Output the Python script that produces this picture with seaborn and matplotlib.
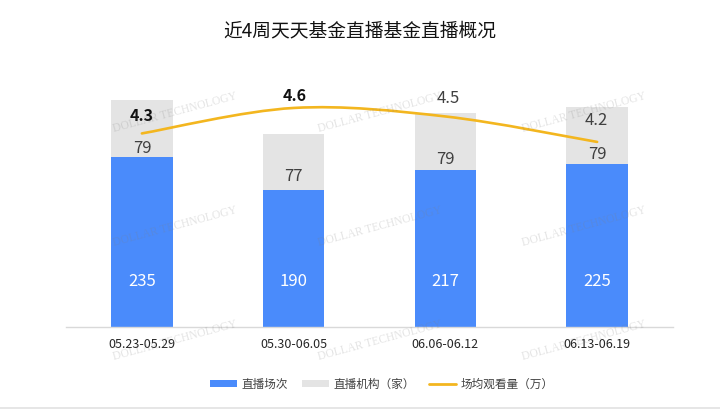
# -*- coding: utf-8 -*-
import matplotlib
matplotlib.use("Agg")
import pandas as pd
import matplotlib.pyplot as plt
import seaborn as sns
from matplotlib.lines import Line2D
from matplotlib.patches import Patch, PathPatch, Rectangle
from matplotlib.path import Path

# ---------------------------------------------------------------------------
# DATA
# ---------------------------------------------------------------------------
periods  = ["05.23-05.29", "05.30-06.05", "06.06-06.12", "06.13-06.19"]
sessions = [235, 190, 217, 225]
orgs     = [79, 77, 79, 79]
avg_view = [4.3, 4.6, 4.5, 4.2]

# ---------------------------------------------------------------------------
# STYLE
# ---------------------------------------------------------------------------
W, H = 720, 409
BLUE, GREY, GOLD = "#4A8BFB", "#E4E4E4", "#F3B61F"
DARK = "#404040"

sns.set_theme(style="white")
plt.rcParams["font.family"] = ["Noto Sans CJK SC", "DejaVu Sans"]

df = pd.DataFrame({"period": periods, "sessions": sessions, "orgs": orgs})

fig = plt.figure(figsize=(W / 100, H / 100), dpi=100, facecolor="white")
ax = fig.add_axes([66 / W, 1 - 327 / H, 607 / W, 253 / H])

# bars
sns.barplot(data=df, x="period", y="sessions", color=BLUE, width=0.405,
            saturation=1, linewidth=0, ax=ax, zorder=2)
sns.barplot(data=df, x="period", y="orgs", bottom=df["sessions"].to_numpy(),
            color=GREY, width=0.405, saturation=1, linewidth=0, ax=ax, zorder=2)
ax.set_xlim(-0.5, 3.5)
ax.set_ylim(0, 350)
ax.set_xlabel("")
ax.set_ylabel("")
ax.set_yticks([])
ax.tick_params(axis="x", length=0, pad=8, labelsize=9, labelcolor="#262626")
for side in ["top", "left", "right"]:
    ax.spines[side].set_visible(False)
ax.spines["bottom"].set_color("#D9D9D9")
ax.spines["bottom"].set_linewidth(1)

# bar labels
org_offsets = [9, 13, 11, 10]
for i, (s, o) in enumerate(zip(sessions, orgs)):
    ax.annotate(str(s), (i, 0), xytext=(0, 33), textcoords="offset points",
                ha="center", va="center", color="white", fontsize=12, zorder=5)
    ax.annotate(str(o), (i, s), xytext=(0, org_offsets[i] * 0.72),
                textcoords="offset points", ha="center", va="center",
                color=DARK, fontsize=12, zorder=5)

# smooth line on a hidden second axis
ax2 = ax.twinx()
ax2.set_ylim(2.02, 5.0)
ax2.set_yticks([])
ax2.patch.set_visible(False)
for sp in ax2.spines.values():
    sp.set_visible(False)

pts = list(enumerate(avg_view))
verts, codes = [pts[0]], [Path.MOVETO]
for i in range(len(pts) - 1):
    p0 = pts[max(i - 1, 0)]
    p1, p2 = pts[i], pts[i + 1]
    p3 = pts[min(i + 2, len(pts) - 1)]
    c1 = (p1[0] + (p2[0] - p0[0]) / 6, p1[1] + (p2[1] - p0[1]) / 6)
    c2 = (p2[0] - (p3[0] - p1[0]) / 6, p2[1] - (p3[1] - p1[1]) / 6)
    verts += [c1, c2, p2]
    codes += [Path.CURVE4] * 3
ax2.add_patch(PathPatch(Path(verts, codes), fill=False, edgecolor=GOLD,
                        linewidth=1.9, capstyle="round", zorder=4))

# line labels
view_offsets = [17, 12, 18, 21]
view_bold    = [True, True, False, False]
view_color   = ["#111111", "#111111", DARK, DARK]
x_nudge      = [0, 1, 3, -1]
for i, v in enumerate(avg_view):
    ax2.annotate(f"{v}", (i, v), xytext=(x_nudge[i] * 0.72, view_offsets[i] * 0.72),
                 textcoords="offset points", ha="center", va="center",
                 color=view_color[i],
                 fontsize=11.5 if view_bold[i] else 12,
                 fontweight="bold" if view_bold[i] else "normal", zorder=5)

# title
fig.text(360 / W, 1 - 31 / H, "近4周天天基金直播基金直播概况", ha="center",
         va="center", fontsize=13.5, fontweight="medium", color="#111111")

# legend
handles = [Patch(facecolor=BLUE, edgecolor="none"),
           Patch(facecolor=GREY, edgecolor="none"),
           Line2D([0], [0], color=GOLD, linewidth=2)]
labels = ["直播场次", "直播机构（家）", "场均观看量（万）"]
fig.legend(handles, labels, ncol=3, loc="center", frameon=False,
           bbox_to_anchor=(381.5 / W, 1 - 384 / H), fontsize=8.4,
           labelcolor="#404040", handlelength=2.3, handleheight=0.6,
           handletextpad=0.4, columnspacing=1.2)

# watermark
for cy in [113, 227, 341]:
    for cx in [175, 380, 584]:
        fig.text(cx / W, 1 - cy / H, "DOLLAR TECHNOLOGY", rotation=15,
                 ha="center", va="center", family="Liberation Serif",
                 fontsize=8.3, color="#808080", alpha=0.22, zorder=10)

# grey strip of the screenshot along the bottom edge
fig.add_artist(Rectangle((0, 0), 1, 2.5 / H, transform=fig.transFigure,
                         facecolor="#E6E6E6", edgecolor="none"))

fig.savefig("out.png", dpi=100)
